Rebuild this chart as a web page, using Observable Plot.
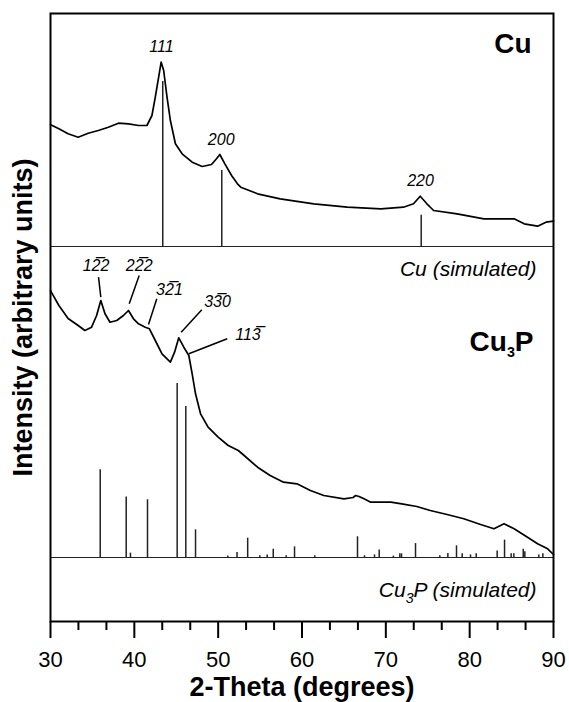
<!DOCTYPE html>
<html>
<head>
<meta charset="utf-8">
<script src="https://cdn.jsdelivr.net/npm/d3@7"></script>
<script src="https://cdn.jsdelivr.net/npm/@observablehq/plot@0.6"></script>
<style>
  html, body { margin: 0; padding: 0; background: #fff; overflow: hidden; }
</style>
</head>
<body>
<div id="chart"></div>
<script>
// Measured XRD pattern of the Cu sample (2θ in degrees, intensity above its panel baseline)
const cuTheta = [30.0, 30.2, 31.0, 32.1, 33.3, 34.5, 35.7, 36.9, 38.1, 39.3, 40.5, 41.5, 42.1, 42.5, 42.9, 43.2, 43.5, 43.9, 44.3, 44.9, 45.7, 46.9, 48.1, 49.2, 49.8, 50.2, 50.8, 51.6, 52.3, 52.7, 54.7, 57.4, 61.4, 65.4, 69.4, 72.1, 73.3, 74.1, 74.9, 75.7, 78.5, 81.7, 85.3, 86.5, 88.1, 89.1, 90.0];
const cuCounts = [122, 121, 117.7, 112.7, 109.3, 113.3, 116, 119.3, 123.3, 122.7, 121, 121, 131, 149.3, 169.3, 184.3, 176, 149.3, 126, 102.7, 92.7, 84.3, 80, 82, 87.7, 92, 82.7, 71, 62.7, 59.3, 52.7, 47.7, 42.7, 39.3, 37.7, 39.3, 42.7, 50.3, 42.7, 36, 32.7, 27.7, 27.7, 22.7, 20.3, 24.3, 25.3];

// Measured XRD pattern of the Cu3P sample
const cu3pTheta = [30.0, 30.1, 31.0, 32.1, 33.3, 34.1, 34.9, 35.5, 36.0, 36.5, 37.1, 37.9, 38.7, 39.3, 39.9, 40.5, 41.3, 41.8, 42.5, 43.3, 44.3, 44.8, 45.3, 45.9, 46.5, 46.9, 47.3, 47.9, 48.8, 50.0, 51.2, 52.4, 53.1, 54.7, 56.2, 57.8, 59.4, 61.0, 62.6, 65.0, 66.1, 66.4, 66.8, 67.4, 68.2, 70.6, 71.9, 73.7, 75.3, 77.3, 79.3, 81.3, 82.9, 84.1, 85.3, 86.9, 88.1, 89.3, 90.0];
const cu3pCounts = [267, 265.3, 252, 239, 232, 227, 230.3, 242, 257, 243.7, 235.3, 237, 242, 247, 238.7, 233.7, 230.3, 228.7, 217, 203.7, 195.3, 205.3, 219.7, 210.3, 202, 183.7, 163.7, 143.7, 130.3, 120.3, 112, 107, 102, 90.3, 82, 75.3, 73.7, 67, 62, 58.7, 60, 62, 61, 58.7, 55.3, 55.3, 53.7, 51, 47, 43, 38.7, 33, 28.7, 33.7, 28.7, 20.3, 13.7, 8.7, 3];

// Simulated reference lines (relative intensity, %)
const cuRefTheta = [43.39, 50.43, 74.22];
const cuRefIntensity = [100, 46, 19];
const cu3pRefTheta = [35.93, 39.03, 39.54, 41.57, 45.11, 46.14, 47.30, 51.15, 52.25, 53.52, 54.97, 55.85, 56.57, 58.11, 59.11, 61.53, 66.62, 67.46, 68.65, 69.21, 70.90, 71.67, 71.87, 73.54, 76.44, 77.40, 78.43, 79.11, 80.10, 80.78, 83.28, 84.16, 84.95, 85.27, 86.39, 86.58, 88.25, 88.73];
const cu3pRefIntensity = [50.4, 34.7, 2.5, 33.2, 100, 86.8, 15.9, 0.8, 2.9, 11.1, 1.0, 1.4, 4.8, 1.0, 6.1, 1.0, 11.9, 1.0, 1.5, 4.3, 0.8, 2.1, 2.1, 8.0, 1.0, 2.3, 6.7, 2.1, 1.5, 2.1, 3.8, 10.0, 2.1, 2.1, 4.8, 3.3, 1.5, 2.1];

// Reflection labels
const cuHkl = ["111", "200", "220"];
const cuHklTheta = [43.24, 50.36, 74.14];
const cuHklPeak = [184.3, 92, 50.3];

const cu3pHkl = ["12\u03052", "22\u03052", "32\u03051", "33\u03050", "113\u0305"];
const cu3pHklTheta = [35.43, 40.58, 44.19, 49.92, 53.56];
const cu3pHklLevel = [292, 292, 268, 256, 223];
const leaderFromTheta = [35.73, 40.58, 42.68, 48.05, 51.08];
const leaderFromLevel = [280.3, 282, 258.7, 247.7, 218.7];
const leaderToTheta = [36.00, 39.39, 41.69, 45.59, 46.50];
const leaderToLevel = [260.3, 253.7, 233, 225.3, 203.7];

const majorTicks = [30, 40, 50, 60, 70, 80, 90];
const minorTicks = [33.33, 36.67, 43.33, 46.67, 53.33, 56.67, 63.33, 66.67, 73.33, 76.67, 83.33, 86.67];

// Vertical stacking of the two panels
const cuBaseline = 375;
const cu3pBaseline = 64;
const cuStickScale = 1.65;
const cu3pStickScale = 1.74;

const font = "'Liberation Sans', Arial, Helvetica, sans-serif";

const cuPattern = cuTheta.map((t, i) => ({theta: t, counts: cuCounts[i]}));
const cu3pPattern = cu3pTheta.map((t, i) => ({theta: t, counts: cu3pCounts[i]}));
const cuRef = cuRefTheta.map((t, i) => ({theta: t, rel: cuRefIntensity[i]}));
const cu3pRef = cu3pRefTheta.map((t, i) => ({theta: t, rel: cu3pRefIntensity[i]}));
const cuLabels = cuHkl.map((h, i) => ({hkl: h, theta: cuHklTheta[i], peak: cuHklPeak[i]}));
const cu3pLabels = cu3pHkl.map((h, i) => ({
  hkl: h, theta: cu3pHklTheta[i], level: cu3pHklLevel[i],
  x1: leaderFromTheta[i], y1: leaderFromLevel[i], x2: leaderToTheta[i], y2: leaderToLevel[i]
}));

const chart = Plot.plot({
  width: 569,
  height: 702,
  marginLeft: 50,
  marginRight: 16,
  marginTop: 13,
  marginBottom: 81,
  style: {fontFamily: font, background: "#fff", color: "#000"},
  x: {domain: [30, 90]},
  y: {domain: [0, 608], axis: null},
  marks: [
    // panel separators / reference baselines
    Plot.ruleY([cuBaseline, cu3pBaseline], {stroke: "#222", strokeWidth: 1.2}),
    // simulated reference lines
    Plot.ruleX(cuRef, {x: "theta", y1: cuBaseline, y2: d => cuBaseline + d.rel * cuStickScale, stroke: "#222", strokeWidth: 1.5}),
    Plot.ruleX(cu3pRef, {x: "theta", y1: cu3pBaseline, y2: d => cu3pBaseline + d.rel * cu3pStickScale, stroke: "#222", strokeWidth: 1.5}),
    // measured patterns
    Plot.line(cuPattern, {x: "theta", y: d => cuBaseline + d.counts, stroke: "#000", strokeWidth: 1.7}),
    Plot.line(cu3pPattern, {x: "theta", y: d => cu3pBaseline + d.counts, stroke: "#000", strokeWidth: 1.7}),
    // Cu reflections
    Plot.text(cuLabels, {x: "theta", y: d => cuBaseline + d.peak, text: "hkl", dy: -10, lineAnchor: "bottom", fontSize: 16, fontStyle: "italic", fill: "#000"}),
    // Cu3P reflections with leader lines
    Plot.link(cu3pLabels, {x1: "x1", y1: d => cu3pBaseline + d.y1, x2: "x2", y2: d => cu3pBaseline + d.y2, stroke: "#000", strokeWidth: 1.5}),
    Plot.text(cu3pLabels, {x: "theta", y: d => cu3pBaseline + d.level, text: "hkl", lineAnchor: "middle", fontSize: 16, fontStyle: "italic", fill: "#000"}),
    // panel titles
    Plot.text(["Cu"], {text: d => d, frameAnchor: "top-right", dx: -22, dy: 31, lineAnchor: "middle", textAnchor: "end", fontSize: 28, fontWeight: "bold", fill: "#000"}),
    Plot.text(["Cu (simulated)"], {text: d => d, frameAnchor: "right", y: cuBaseline - 23, dx: -17, lineAnchor: "middle", textAnchor: "end", fontSize: 21, fontStyle: "italic", fill: "#000"}),
    Plot.text(["Cu3P"], {text: d => d, frameAnchor: "right", y: cu3pBaseline + 215, dx: -20, lineAnchor: "middle", textAnchor: "end", fontSize: 28, fontWeight: "bold", fill: "#000"}),
    Plot.text(["Cu3P (simulated)"], {text: d => d, frameAnchor: "right", y: cu3pBaseline - 33, dx: -17, lineAnchor: "middle", textAnchor: "end", fontSize: 21, fontStyle: "italic", fill: "#000"}),
    // axes
    Plot.axisX(majorTicks, {anchor: "bottom", tickSize: 17, tickPadding: 13, strokeWidth: 2, fontSize: 22, label: null, tickFormat: d => String(d), fill: "#000"}),
    Plot.axisX(minorTicks, {anchor: "bottom", tickSize: 9, strokeWidth: 2, label: null, tickFormat: () => ""}),
    Plot.text(["2-Theta (degrees)"], {text: d => d, frameAnchor: "bottom", dy: 66, lineAnchor: "middle", fontSize: 27, fontWeight: "bold", fill: "#000"}),
    Plot.text(["Intensity (arbitrary units)"], {text: d => d, frameAnchor: "left", dx: -27, rotate: -90, lineAnchor: "middle", textAnchor: "middle", fontSize: 27, fontWeight: "bold", fill: "#000"}),
    Plot.frame({stroke: "#000", strokeWidth: 2})
  ]
});

// Chemical formula subscripts
d3.select(chart).selectAll("text").each(function () {
  const t = this.textContent;
  if (!t.startsWith("Cu3P")) return;
  const fs = parseFloat(getComputedStyle(this).fontSize) || 21;
  const sel = d3.select(this);
  sel.text("");
  sel.append("tspan").text("Cu");
  sel.append("tspan").attr("font-size", fs * 0.68).attr("dy", fs * 0.28).text("3");
  sel.append("tspan").attr("dy", -fs * 0.28).text(t.slice(3));
});

document.getElementById("chart").appendChild(chart);
</script>
</body>
</html>
